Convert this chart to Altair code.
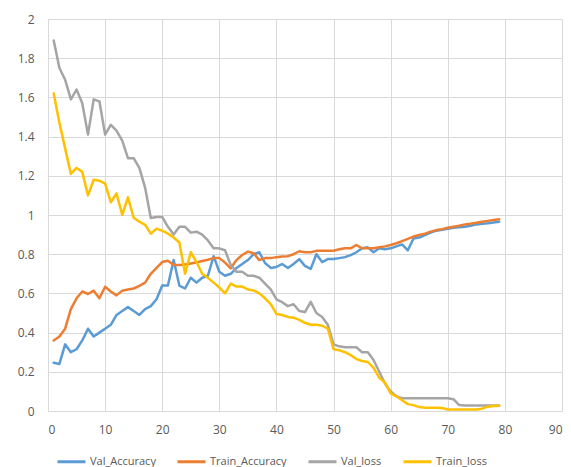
import altair as alt
import pandas as pd

epochs = list(range(1, 80))

val_accuracy = [0.246, 0.24, 0.34, 0.30, 0.315, 0.36, 0.42, 0.38, 0.40, 0.42,
                0.44, 0.49, 0.51, 0.53, 0.51, 0.49, 0.52, 0.535, 0.57, 0.64,
                0.64, 0.77, 0.64, 0.625, 0.68, 0.655, 0.68, 0.69, 0.79, 0.71,
                0.69, 0.70, 0.73, 0.75, 0.77, 0.80, 0.81, 0.755, 0.73, 0.735,
                0.75, 0.73, 0.75, 0.775, 0.74, 0.725, 0.80, 0.76, 0.775, 0.775,
                0.78, 0.785, 0.795, 0.81, 0.83, 0.835, 0.81, 0.83, 0.825, 0.83,
                0.84, 0.85, 0.82, 0.88, 0.885, 0.898, 0.91, 0.92, 0.925, 0.93,
                0.935, 0.937, 0.94, 0.945, 0.952, 0.955, 0.958, 0.962, 0.966]

train_accuracy = [0.36, 0.38, 0.42, 0.52, 0.575, 0.61, 0.597, 0.614, 0.575, 0.634,
                  0.61, 0.59, 0.614, 0.62, 0.625, 0.638, 0.655, 0.70, 0.73, 0.76,
                  0.767, 0.745, 0.745, 0.747, 0.753, 0.758, 0.765, 0.772, 0.78, 0.78,
                  0.757, 0.728, 0.77, 0.796, 0.813, 0.805, 0.77, 0.78, 0.78, 0.785,
                  0.788, 0.79, 0.80, 0.815, 0.81, 0.81, 0.817, 0.818, 0.818, 0.818,
                  0.825, 0.83, 0.83, 0.847, 0.83, 0.83, 0.83, 0.835, 0.84, 0.847,
                  0.856, 0.867, 0.878, 0.89, 0.898, 0.905, 0.915, 0.923, 0.928, 0.935,
                  0.94, 0.945, 0.952, 0.956, 0.96, 0.966, 0.97, 0.974, 0.978]

val_loss = [1.89, 1.75, 1.69, 1.59, 1.64, 1.57, 1.41, 1.59, 1.58, 1.41,
            1.46, 1.43, 1.38, 1.29, 1.29, 1.24, 1.14, 0.985, 0.99, 0.99,
            0.94, 0.90, 0.94, 0.94, 0.91, 0.915, 0.90, 0.87, 0.83, 0.83,
            0.82, 0.745, 0.71, 0.71, 0.69, 0.69, 0.68, 0.65, 0.62, 0.57,
            0.555, 0.535, 0.545, 0.51, 0.505, 0.557, 0.50, 0.48, 0.44, 0.34,
            0.33, 0.325, 0.325, 0.325, 0.30, 0.30, 0.26, 0.20, 0.14, 0.10,
            0.075, 0.065, 0.065, 0.065, 0.065, 0.065, 0.065, 0.065, 0.065, 0.065,
            0.06, 0.03, 0.028, 0.028, 0.028, 0.028, 0.028, 0.028, 0.028]

train_loss = [1.62, 1.47, 1.34, 1.21, 1.24, 1.22, 1.10, 1.18, 1.175, 1.16,
              1.065, 1.11, 1.00, 1.09, 0.986, 0.966, 0.95, 0.905, 0.93, 0.92,
              0.905, 0.885, 0.86, 0.70, 0.81, 0.76, 0.70, 0.68, 0.655, 0.63,
              0.60, 0.65, 0.635, 0.635, 0.62, 0.615, 0.60, 0.575, 0.545, 0.495,
              0.49, 0.48, 0.476, 0.465, 0.45, 0.44, 0.44, 0.435, 0.42, 0.315,
              0.31, 0.30, 0.285, 0.265, 0.255, 0.25, 0.22, 0.17, 0.145, 0.09,
              0.075, 0.055, 0.035, 0.03, 0.02, 0.017, 0.017, 0.017, 0.015, 0.008,
              0.008, 0.008, 0.008, 0.008, 0.008, 0.012, 0.022, 0.025, 0.027]

series_names = ["Val_Accuracy", "Train_Accuracy", "Val_loss", "Train_loss"]
series_colors = ["#5B9BD5", "#ED7D31", "#A5A5A5", "#FFC000"]
x_ticks = list(range(0, 100, 10))
y_ticks = [round(i * 0.2, 1) for i in range(11)]

rows = []
for name, vals in zip(series_names, [val_accuracy, train_accuracy, val_loss, train_loss]):
    for e, v in zip(epochs, vals):
        rows.append({"epoch": e, "value": v, "series": name,
                     "order": series_names.index(name)})
df = pd.DataFrame(rows)

font = "Open Sans"
chart = alt.Chart(df).mark_line(strokeWidth=2.5, strokeJoin="round", strokeCap="round").encode(
    x=alt.X("epoch:Q", scale=alt.Scale(domain=[0, 90], nice=False),
            axis=alt.Axis(values=x_ticks, title=None, grid=True, ticks=False,
                          domain=True, domainColor="#d9d9d9", gridColor="#d9d9d9",
                          labelColor="#595959", labelFont=font, labelFontSize=12,
                          labelPadding=13)),
    y=alt.Y("value:Q", scale=alt.Scale(domain=[0, 2], nice=False),
            axis=alt.Axis(values=y_ticks, format="~g", title=None, grid=True, ticks=False,
                          domain=False, gridColor="#d9d9d9",
                          labelColor="#595959", labelFont=font, labelFontSize=12,
                          labelPadding=14)),
    color=alt.Color("series:N",
                    scale=alt.Scale(domain=series_names, range=series_colors),
                    legend=alt.Legend(title=None, orient="none", direction="horizontal",
                                      legendX=8, legendY=427,
                                      symbolType="stroke", symbolSize=784,
                                      symbolStrokeWidth=3, labelFont=font,
                                      labelFontSize=11, labelColor="#595959",
                                      columnPadding=15, labelOffset=3)),
    detail="order:O",
    order="order:Q",
).properties(
    width=514, height=392,
    autosize=alt.AutoSizeParams(type="none"),
    padding={"left": 40, "top": 11, "right": 1, "bottom": 56},
).configure_view(stroke=None)

chart.save("out.html", embed_options={"renderer": "svg", "actions": False})
